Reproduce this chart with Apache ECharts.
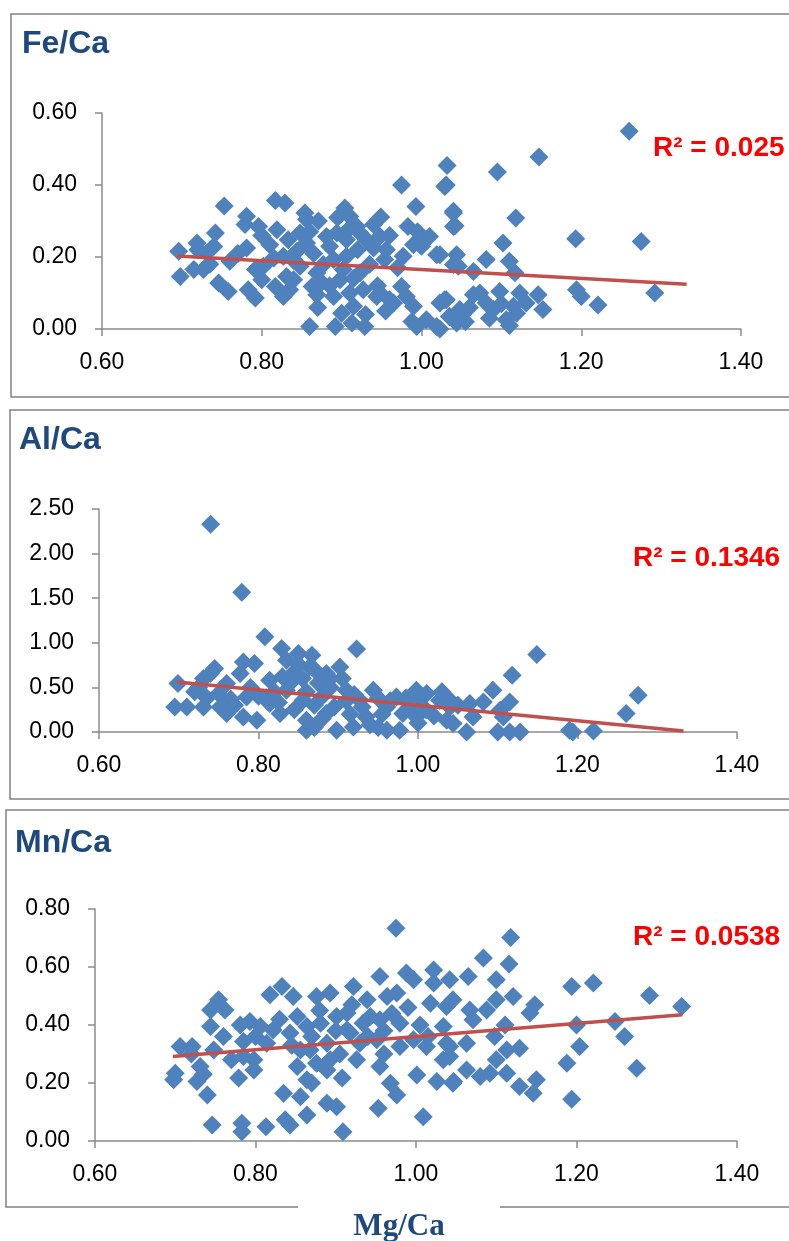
<!DOCTYPE html>
<html>
<head>
<meta charset="utf-8">
<title>Fe/Ca, Al/Ca, Mn/Ca vs Mg/Ca</title>
<script src="https://cdn.jsdelivr.net/npm/echarts@6/dist/echarts.min.js"></script>
<style>
  html, body { margin: 0; padding: 0; background: #fff; }
  #chart { width: 789px; height: 1241px; }
</style>
</head>
<body>
<div id="chart"></div>
<script>
// values: [Mg/Ca, X/Ca]
const feCa = [
  [0.753,0.342],[0.817,0.357],[0.829,0.350],[0.781,0.313],[0.779,0.290],[0.796,0.285],[0.854,0.322],[0.871,0.300],
  [0.904,0.336],[0.910,0.313],[0.949,0.311],[0.975,0.400],[1.029,0.396],[0.993,0.340],[1.040,0.322],[1.040,0.285],
  [0.696,0.216],[0.698,0.146],[0.719,0.239],[0.742,0.267],[0.731,0.211],[0.727,0.165],[0.746,0.128],[0.758,0.104],
  [0.760,0.188],[0.781,0.225],[0.792,0.165],[0.783,0.109],[0.792,0.086],[0.810,0.234],[0.815,0.197],[0.817,0.118],
  [0.827,0.090],[0.833,0.248],[0.840,0.137],[0.844,0.216],[0.848,0.267],[0.856,0.239],[0.863,0.118],[0.869,0.095],
  [0.860,0.007],[0.877,0.179],[0.881,0.257],[0.890,0.090],[0.892,0.007],[0.898,0.137],[0.900,0.044],[0.906,0.202],
  [0.915,0.063],[0.913,0.017],[0.923,0.267],[0.929,0.007],[0.927,0.109],[0.940,0.225],[0.944,0.090],[0.948,0.257],
  [0.954,0.193],[0.965,0.072],[0.977,0.202],[0.983,0.285],[0.990,0.234],[0.975,0.118],[0.981,0.090],[0.988,0.021],
  [1.006,0.026],[1.010,0.257],[1.019,0.206],[1.029,0.081],[1.035,0.035],[1.019,0.007],[1.040,0.179],
  [0.819,0.276],[0.827,0.202],[0.848,0.174],[0.856,0.304],[0.894,0.267],[0.906,0.248],[0.919,0.285],[0.931,0.248],
  [0.923,0.156],[0.902,0.165],[0.869,0.156],[0.890,0.193],[0.956,0.220],[0.948,0.100],[0.960,0.081],[0.990,0.063],
  [0.994,0.007],[0.715,0.165],[0.740,0.229],[0.802,0.174],[0.800,0.137],[0.831,0.146],[0.835,0.109],
  [1.260,0.549],[1.147,0.478],[1.032,0.454],[1.095,0.436],[1.031,0.400],[1.040,0.327],[1.042,0.287],[1.118,0.308],
  [1.193,0.251],[1.275,0.243],[1.102,0.239],[1.023,0.206],[1.044,0.206],[1.046,0.174],[1.065,0.160],[1.081,0.193],
  [1.110,0.188],[1.117,0.156],[1.194,0.109],[1.200,0.090],[1.221,0.067],[1.292,0.100],[1.031,0.081],[1.065,0.095],
  [1.073,0.100],[1.098,0.104],[1.123,0.100],[1.146,0.095],[1.152,0.054],[1.131,0.072],[1.115,0.063],[1.090,0.054],
  [1.081,0.072],[1.048,0.054],[1.044,0.017],[1.106,0.026],[1.119,0.044],[1.035,0.035],[1.023,0.072],[1.023,0.000],
  [0.720,0.220],[0.735,0.180],[0.770,0.210],[0.800,0.260],[0.840,0.190],[0.860,0.270],[0.865,0.210],[0.875,0.130],
  [0.885,0.230],[0.895,0.310],[0.910,0.280],[0.915,0.140],[0.920,0.220],[0.935,0.180],[0.940,0.290],[0.945,0.120],
  [0.960,0.260],[0.970,0.170],[0.995,0.270],[1.000,0.230],[0.955,0.050],[0.930,0.040],[0.910,0.100],[0.885,0.120],
  [0.870,0.060],[1.060,0.060],[1.085,0.030],[1.100,0.070],[1.055,0.020],[1.110,0.010]
];

const alCa = [
  [0.740,2.330],[0.779,1.568],[0.808,1.067],[0.923,0.930],[0.829,0.936],[0.850,0.880],[0.867,0.860],[0.781,0.786],
  [0.795,0.768],[0.745,0.712],[0.699,0.543],[0.731,0.600],[0.760,0.543],[0.695,0.281],[0.710,0.281],[0.731,0.281],
  [0.752,0.281],[0.760,0.206],[0.785,0.393],[0.781,0.168],[0.798,0.131],[0.777,0.656],[0.814,0.580],[0.835,0.805],
  [0.843,0.656],[0.864,0.730],[0.885,0.656],[0.902,0.730],[0.835,0.468],[0.856,0.356],[0.814,0.319],[0.827,0.206],
  [0.860,0.131],[0.860,0.019],[0.898,0.019],[0.885,0.206],[0.910,0.468],[0.927,0.356],[0.944,0.468],[0.935,0.168],
  [0.961,0.281],[0.973,0.393],[0.981,0.206],[0.977,0.019],[0.998,0.468],[1.011,0.431],[1.027,0.356],[1.040,0.281],
  [1.036,0.131],[0.998,0.168],[0.919,0.056],[0.961,0.019],
  [1.149,0.869],[1.118,0.636],[1.094,0.468],[1.276,0.412],[1.261,0.206],[1.115,0.337],[1.082,0.337],[1.065,0.319],
  [1.040,0.356],[1.069,0.168],[1.044,0.094],[1.061,0.000],[1.100,0.000],[1.115,0.000],[1.128,0.000],[1.190,0.019],
  [1.194,0.000],[1.220,0.011],[1.107,0.168],[1.103,0.244],
  [0.720,0.450],[0.735,0.380],[0.750,0.430],[0.765,0.370],[0.725,0.500],[0.740,0.660],[0.770,0.300],[0.790,0.500],
  [0.800,0.400],[0.820,0.450],[0.825,0.330],[0.840,0.550],[0.845,0.250],[0.855,0.600],[0.860,0.450],[0.870,0.300],
  [0.875,0.550],[0.880,0.400],[0.890,0.500],[0.895,0.280],[0.905,0.600],[0.910,0.350],[0.915,0.200],[0.920,0.420],
  [0.930,0.280],[0.950,0.380],[0.955,0.200],[0.965,0.350],[0.985,0.380],[0.990,0.280],[1.000,0.100],[1.010,0.250],
  [1.020,0.180],[1.030,0.450],[1.050,0.300],[0.940,0.080],[0.870,0.050],
  [0.850,0.760],[0.870,0.700],[0.890,0.600],[0.830,0.620],[0.810,0.380],[0.880,0.150],[0.950,0.050],[1.000,0.330]
];

const mnCa = [
  [0.746,0.055],[0.783,0.061],[0.783,0.032],[0.813,0.049],[0.837,0.073],[0.843,0.055],[0.909,0.032],[0.864,0.090],
  [0.740,0.159],[0.698,0.211],[0.700,0.234],[0.727,0.205],[0.779,0.217],[0.798,0.245],[0.706,0.326],[0.721,0.326],
  [0.731,0.257],[0.744,0.452],[0.754,0.487],[0.762,0.452],[0.744,0.395],[0.760,0.360],[0.748,0.314],[0.781,0.400],
  [0.793,0.412],[0.785,0.343],[0.806,0.395],[0.818,0.504],[0.833,0.533],[0.847,0.498],[0.814,0.337],[0.822,0.383],
  [0.798,0.280],[0.785,0.291],[0.843,0.372],[0.852,0.429],[0.856,0.314],[0.852,0.257],[0.864,0.211],[0.835,0.165],
  [0.856,0.153],[0.876,0.498],[0.893,0.510],[0.864,0.395],[0.881,0.406],[0.889,0.337],[0.893,0.280],[0.889,0.245],
  [0.908,0.217],[0.889,0.130],[0.901,0.118],[0.922,0.533],[0.914,0.441],[0.914,0.383],[0.930,0.337],[0.926,0.280],
  [0.939,0.487],[0.955,0.567],[0.964,0.498],[0.955,0.418],[0.951,0.349],[0.955,0.257],[0.968,0.199],[0.976,0.159],
  [0.953,0.113],[1.009,0.084],[0.988,0.579],[0.997,0.556],[0.976,0.510],[0.980,0.406],[0.980,0.326],[1.001,0.228],
  [1.022,0.590],[1.022,0.545],[1.042,0.556],[1.018,0.475],[1.038,0.464],[1.034,0.395],[1.042,0.326],[1.034,0.280],
  [1.026,0.205],[1.047,0.205],[1.013,0.326],[0.997,0.349],[0.918,0.372],[0.901,0.429],[0.868,0.314],[0.876,0.268],
  [0.934,0.406],[0.943,0.429],[0.975,0.734],
  [1.118,0.702],[1.084,0.631],[1.116,0.610],[1.221,0.545],[1.194,0.533],[1.291,0.502],[1.331,0.464],[1.065,0.567],
  [1.100,0.556],[1.121,0.498],[1.148,0.470],[1.142,0.441],[1.100,0.487],[1.088,0.452],[1.067,0.452],[1.046,0.487],
  [1.071,0.418],[1.111,0.400],[1.200,0.400],[1.248,0.412],[1.260,0.360],[1.204,0.326],[1.188,0.268],[1.275,0.251],
  [1.194,0.144],[1.098,0.360],[1.063,0.337],[1.038,0.337],[1.129,0.320],[1.113,0.314],[1.100,0.280],[1.042,0.291],
  [1.063,0.245],[1.113,0.234],[1.080,0.222],[1.046,0.199],[1.150,0.211],[1.146,0.165],[1.129,0.188],[1.092,0.234],
  [0.720,0.300],[0.735,0.230],[0.770,0.280],[0.800,0.360],[0.830,0.420],[0.845,0.330],[0.870,0.360],[0.880,0.450],
  [0.900,0.380],[0.920,0.470],[0.940,0.360],[0.960,0.380],[0.970,0.440],[0.990,0.460],[1.005,0.400],[1.015,0.360],
  [0.870,0.200],[0.905,0.300],[0.960,0.300]
];

// trend line end points
const feTrend = [[0.694, 0.203], [1.332, 0.124]];
const alTrend = [[0.698, 0.561], [1.333, 0.011]];
const mnTrend = [[0.697, 0.291], [1.332, 0.435]];

const titles = ['Fe/Ca', 'Al/Ca', 'Mn/Ca'];
const r2Labels = ['R² = 0.025', 'R² = 0.1346', 'R² = 0.0538'];
const yMaxes = [0.6, 2.5, 0.8];
const ySteps = [0.2, 0.5, 0.2];

const seriesData = [feCa, alCa, mnCa];
const trendData = [feTrend, alTrend, mnTrend];

// layout of the three panels (pixels)
const grids = [
  { left: 102, top: 113, width: 639, height: 216 },
  { left: 99, top: 509, width: 638, height: 223 },
  { left: 95, top: 909, width: 642, height: 232 }
];
const boxes = [
  { x: 11, y: 14, h: 383 },
  { x: 10, y: 410, h: 389 },
  { x: 6, y: 810, h: 397 }
];
const titlePos = [[22, 44], [19, 440], [15, 843]];
const r2Pos = [[653, 148], [633, 558], [633, 937]];

const axisFont = "'Liberation Sans', Arial, sans-serif";
const axisGray = '#8c8c8c';

const chart = echarts.init(document.getElementById('chart'));

const graphic = [];
boxes.forEach(b => {
  graphic.push({
    type: 'rect',
    shape: { x: b.x, y: b.y, width: 800 - b.x, height: b.h },
    style: { fill: 'none', stroke: '#808080', lineWidth: 1.5 },
    z: 0
  });
});
// gap in the lowest box border for the shared axis title
graphic.push({
  type: 'rect',
  shape: { x: 298, y: 1203, width: 202, height: 8 },
  style: { fill: '#fff' },
  z: 1
});
graphic.push({
  type: 'text',
  x: 399, y: 1227,
  style: {
    text: 'Mg/Ca', fill: '#1F497D',
    font: "bold 31px 'Liberation Serif', 'Times New Roman', serif",
    textAlign: 'center', textVerticalAlign: 'middle'
  },
  z: 2
});
titles.forEach((t, i) => {
  graphic.push({
    type: 'text',
    x: titlePos[i][0], y: titlePos[i][1],
    style: {
      text: t, fill: '#1F497D',
      font: "bold 32px 'Liberation Sans', Arial, sans-serif",
      textAlign: 'left', textVerticalAlign: 'middle'
    },
    z: 2
  });
  graphic.push({
    type: 'text',
    x: r2Pos[i][0], y: r2Pos[i][1],
    style: {
      text: r2Labels[i], fill: '#FF0000',
      font: "bold 28px 'Liberation Sans', Arial, sans-serif",
      textAlign: 'left', textVerticalAlign: 'middle'
    },
    z: 2
  });
});

const option = {
  animation: false,
  backgroundColor: '#fff',
  grid: grids.map(g => Object.assign({ containLabel: false }, g)),
  xAxis: grids.map((g, i) => ({
    gridIndex: i,
    type: 'value',
    min: 0.6,
    max: 1.4,
    interval: 0.2,
    axisLine: { show: true, onZero: false, lineStyle: { color: axisGray, width: 1.5 } },
    axisTick: { show: true, length: 7, lineStyle: { color: axisGray, width: 1.5 } },
    axisLabel: {
      color: '#000', fontSize: 23, fontFamily: axisFont, margin: 22,
      formatter: v => v.toFixed(2)
    },
    splitLine: { show: false }
  })),
  yAxis: grids.map((g, i) => ({
    gridIndex: i,
    type: 'value',
    min: 0,
    max: yMaxes[i],
    interval: ySteps[i],
    axisLine: { show: true, lineStyle: { color: axisGray, width: 1.5 } },
    axisTick: { show: true, length: 7, lineStyle: { color: axisGray, width: 1.5 } },
    axisLabel: {
      color: '#000', fontSize: 23, fontFamily: axisFont, margin: 25,
      formatter: v => v.toFixed(2)
    },
    splitLine: { show: false }
  })),
  series: [],
  graphic: graphic
};

seriesData.forEach((d, i) => {
  option.series.push({
    type: 'scatter',
    xAxisIndex: i,
    yAxisIndex: i,
    symbol: 'diamond',
    symbolSize: 19,
    itemStyle: { color: '#4F81BD', opacity: 1 },
    data: d,
    z: 2
  });
  option.series.push({
    type: 'line',
    xAxisIndex: i,
    yAxisIndex: i,
    showSymbol: false,
    symbol: 'none',
    lineStyle: { color: '#C0504D', width: 3.5 },
    data: trendData[i],
    z: 3
  });
});

chart.setOption(option);
</script>
</body>
</html>
